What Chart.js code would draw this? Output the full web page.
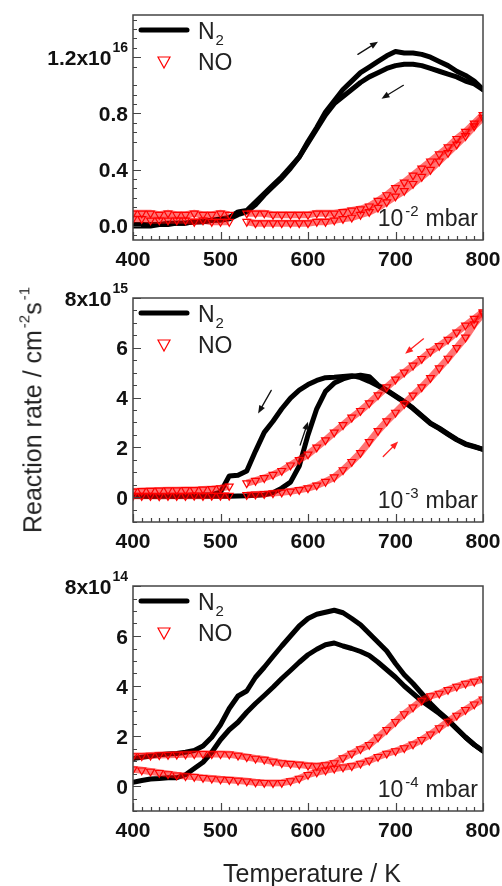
<!DOCTYPE html>
<html>
<head>
<meta charset="utf-8">
<script src="https://cdn.jsdelivr.net/npm/chart.js@4.4.0/dist/chart.umd.min.js"></script>
<style>
body { margin: 0; background: #fff; }
#wrap { position: relative; width: 502px; height: 886px; overflow: hidden; font-family: "Liberation Sans", Arial, sans-serif; color: #222; }
canvas { position: absolute; left: 0; }
#ytitle { position: absolute; left: 33px; top: 410px; transform: translate(-50%, -50%) rotate(-90deg); white-space: nowrap; font-size: 25px; }
#xtitle { position: absolute; left: 312px; top: 873px; transform: translate(-50%, -50%); white-space: nowrap; font-size: 25px; }
sup { font-size: 15px; position: relative; top: -3px; margin-left: 2px; }
</style>
</head>
<body>
<div id="wrap">
  <canvas id="c1" width="502" height="280" style="top:0px"></canvas>
  <canvas id="c2" width="502" height="290" style="top:280px"></canvas>
  <canvas id="c3" width="502" height="316" style="top:570px"></canvas>
  <div id="ytitle">Reaction rate / cm<sup>-2</sup>s<sup>-1</sup></div>
  <div id="xtitle">Temperature / K</div>
</div>
<script>

// temperature grid (K), shared by all panels
const temps = [400, 410, 420, 430, 440, 450, 460, 470, 480, 490,
               500, 510, 520, 530, 540, 550, 560, 570, 580, 590,
               600, 610, 620, 630, 640, 650, 660, 670, 680, 690,
               700, 710, 720, 730, 740, 750, 760, 770, 780, 790, 800];

// panel 1: 1e-2 mbar, values in 1e16 cm^-2 s^-1
const n2Heat1 = [0.00, 0.00, 0.00, 0.01, 0.01, 0.02, 0.02, 0.03, 0.03, 0.04,
                 0.05, 0.06, 0.10, 0.11, 0.17, 0.23, 0.29, 0.35, 0.42, 0.49,
                 0.60, 0.70, 0.81, 0.89, 0.97, 1.03, 1.09, 1.13, 1.17, 1.21,
                 1.24, 1.23, 1.23, 1.22, 1.20, 1.17, 1.14, 1.10, 1.07, 1.03, 0.97];
const n2Cool1 = [0.01, 0.01, 0.01, 0.01, 0.02, 0.02, 0.02, 0.03, 0.03, 0.04,
                 0.04, 0.05, 0.08, 0.10, 0.15, 0.22, 0.28, 0.34, 0.41, 0.49,
                 0.59, 0.69, 0.79, 0.87, 0.92, 0.97, 1.02, 1.06, 1.09, 1.12,
                 1.14, 1.15, 1.15, 1.14, 1.12, 1.10, 1.08, 1.06, 1.03, 1.01, 0.97];
const noA1 = [0.09, 0.09, 0.09, 0.08, 0.09, 0.08, 0.08, 0.09, 0.08, 0.08,
              0.09, 0.08, null, 0.09, 0.09, 0.09, 0.08, 0.08, 0.08, 0.08,
              0.08, 0.09, 0.09, 0.09, 0.10, 0.11, 0.12, 0.14, 0.18, 0.22,
              0.27, 0.31, 0.36, 0.41, 0.46, 0.51, 0.56, 0.62, 0.67, 0.73, 0.79];
const noB1 = [0.05, 0.05, 0.04, 0.04, 0.04, 0.04, 0.04, 0.03, 0.04, 0.03,
              0.03, 0.03, null, 0.03, 0.02, 0.02, 0.02, 0.02, 0.02, 0.02,
              0.02, 0.03, 0.03, 0.04, 0.05, 0.06, 0.08, 0.10, 0.13, 0.17,
              0.21, 0.25, 0.30, 0.35, 0.40, 0.46, 0.52, 0.58, 0.64, 0.71, 0.77];

// panel 2: 1e-3 mbar, values in 1e15 cm^-2 s^-1
const n2Heat2 = [0.03, 0.03, 0.02, 0.03, 0.03, 0.02, 0.03, 0.03, 0.03, 0.03,
                 0.03, 0.03, 0.04, 0.05, 0.07, 0.09, 0.18, 0.36, 0.60, 1.25,
                 2.50, 3.55, 4.25, 4.58, 4.75, 4.85, 4.90, 4.84, 4.50, 4.30,
                 4.07, 3.84, 3.58, 3.27, 2.97, 2.77, 2.54, 2.32, 2.14, 2.04, 1.92];
const n2Cool2 = [0.05, 0.05, 0.04, 0.05, 0.05, 0.05, 0.06, 0.07, 0.08, 0.10,
                 0.20, 0.85, 0.88, 1.05, 1.85, 2.60, 3.05, 3.55, 3.98, 4.30,
                 4.52, 4.69, 4.80, 4.82, 4.85, 4.88, 4.80, 4.65, 4.47, 4.28,
                 4.05, 3.82, 3.56, 3.25, 2.95, 2.75, 2.52, 2.30, 2.12, 2.02, 1.92];
const noA2 = [0.23, 0.25, 0.26, 0.27, 0.28, 0.28, 0.29, 0.29, 0.31, 0.33,
              0.36, 0.43, null, 0.56, 0.66, 0.77, 0.90, 1.06, 1.28, 1.50,
              1.72, 2.00, 2.29, 2.60, 2.90, 3.20, 3.47, 3.78, 4.10, 4.42,
              4.73, 5.01, 5.29, 5.56, 5.85, 6.08, 6.33, 6.62, 6.90, 7.17, 7.43];
const noB2 = [0.05, 0.05, 0.05, 0.04, 0.05, 0.05, 0.05, 0.06, 0.05, 0.06,
              0.06, 0.06, null, 0.09, 0.11, 0.13, 0.16, 0.19, 0.23, 0.29,
              0.36, 0.47, 0.62, 0.80, 1.09, 1.42, 1.78, 2.22, 2.66, 3.05,
              3.40, 3.75, 4.09, 4.42, 4.79, 5.18, 5.57, 6.00, 6.42, 6.95, 7.38];

// panel 3: 1e-4 mbar, values in 1e14 cm^-2 s^-1
const n2Up3 = [1.10, 1.15, 1.20, 1.25, 1.28, 1.30, 1.35, 1.42, 1.60, 1.95,
               2.45, 3.10, 3.60, 3.80, 4.35, 4.75, 5.18, 5.60, 6.00, 6.40,
               6.70, 6.87, 6.95, 7.03, 6.93, 6.70, 6.45, 6.10, 5.75, 5.40,
               4.90, 4.45, 4.10, 3.70, 3.30, 2.95, 2.65, 2.30, 1.95, 1.65, 1.40];
const n2Low3 = [0.15, 0.22, 0.28, 0.30, 0.33, 0.33, 0.45, 0.70, 0.95, 1.35,
                1.85, 2.25, 2.55, 2.95, 3.30, 3.62, 3.95, 4.30, 4.62, 4.95,
                5.25, 5.47, 5.65, 5.72, 5.60, 5.50, 5.38, 5.22, 4.95, 4.65,
                4.35, 4.00, 3.70, 3.40, 3.15, 2.90, 2.62, 2.28, 1.95, 1.65, 1.40];
const noA3 = [1.20, 1.20, 1.22, 1.24, 1.25, 1.26, 1.27, 1.28, 1.29, 1.28,
              1.28, 1.27, 1.22, 1.16, 1.10, 1.06, 0.98, 0.92, 0.89, 0.86,
              0.82, 0.80, 0.84, 0.92, 1.12, 1.30, 1.48, 1.65, 1.95, 2.25,
              2.57, 2.88, 3.15, 3.42, 3.60, 3.70, 3.85, 3.98, 4.10, 4.18, 4.27];
const noB3 = [0.67, 0.63, 0.58, 0.53, 0.48, 0.43, 0.40, 0.37, 0.33, 0.30,
              0.27, 0.25, 0.22, 0.19, 0.15, 0.13, 0.12, 0.13, 0.20, 0.30,
              0.45, 0.55, 0.63, 0.70, 0.75, 0.80, 0.90, 1.02, 1.17, 1.30,
              1.40, 1.52, 1.67, 1.85, 2.07, 2.32, 2.58, 2.82, 3.05, 3.27, 3.47];

// y tick labels per panel
const yTicks1 = [0, 0.4, 0.8, 1.2];
const yLabels1 = ["0.0", "0.4", "0.8", "1.2x10"];
const yTicks2 = [0, 2, 4, 6, 8];
const yLabels2 = ["0", "2", "4", "6", "8x10"];
const yTicks3 = [0, 2, 4, 6, 8];
const yLabels3 = ["0", "2", "4", "6", "8x10"];

// direction arrows, [T0, v0, T1, v1, colour] in data units
const arrows1 = [[657, 1.22, 680, 1.31, "#111"], [709, 1.00, 684, 0.905, "#111"]];
const arrows2 = [[558, 4.29, 543, 3.36, "#111"], [591, 2.09, 600, 3.03, "#111"],
                 [732, 6.36, 711, 5.76, "#ff2020"], [686, 1.63, 703, 2.23, "#ff2020"]];
const arrows3 = [];

const FONT = '"Liberation Sans", Arial, sans-serif';
const RED = "#ff0000";

function pts(vals) {
    return temps.map((t, i) => ({ x: t, y: vals[i] }));
}

function arrow(ctx, x0, y0, x1, y1, color) {
    const a = Math.atan2(y1 - y0, x1 - x0);
    ctx.save();
    ctx.strokeStyle = color;
    ctx.fillStyle = color;
    ctx.lineWidth = 1.3;
    ctx.beginPath();
    ctx.moveTo(x0, y0);
    ctx.lineTo(x1 - 5 * Math.cos(a), y1 - 5 * Math.sin(a));
    ctx.stroke();
    ctx.beginPath();
    ctx.moveTo(x1, y1);
    ctx.lineTo(x1 - 8 * Math.cos(a) + 3.2 * Math.sin(a), y1 - 8 * Math.sin(a) - 3.2 * Math.cos(a));
    ctx.lineTo(x1 - 8 * Math.cos(a) - 3.2 * Math.sin(a), y1 - 8 * Math.sin(a) + 3.2 * Math.cos(a));
    ctx.closePath();
    ctx.fill();
    ctx.restore();
}

// frame, inward ticks, y labels, legend, pressure note, arrows
const decoPlugin = {
    id: "deco",
    afterDraw(chart, args, opts) {
        const ctx = chart.ctx;
        const a = chart.chartArea;
        const xs = chart.scales.x;
        const ys = chart.scales.y;
        ctx.save();

        // frame
        ctx.strokeStyle = "#444";
        ctx.lineWidth = 1.5;
        ctx.strokeRect(a.left, a.top, a.right - a.left, a.bottom - a.top);

        // inward ticks on x
        ctx.lineWidth = 1.2;
        ctx.beginPath();
        for (let t = 400; t <= 800; t += 10) {
            const px = Math.round(xs.getPixelForValue(t)) + 0.5;
            const len = t % 100 === 0 ? 8 : 4;
            ctx.moveTo(px, a.bottom);
            ctx.lineTo(px, a.bottom - len);
        }
        // inward ticks on y
        const minor = opts.minor;
        for (let v = ys.min; v <= ys.max + 1e-9; v += minor) {
            const vv = Math.round(v / minor) * minor;
            const py = Math.round(ys.getPixelForValue(vv)) + 0.5;
            const isMajor = opts.ticks.some(m => Math.abs(m - vv) < 1e-6);
            ctx.moveTo(a.left, py);
            ctx.lineTo(a.left + (isMajor ? 8 : 4), py);
        }
        ctx.stroke();

        // y tick labels
        ctx.fillStyle = "#111";
        ctx.textAlign = "right";
        ctx.textBaseline = "alphabetic";
        opts.ticks.forEach((v, i) => {
            const py = ys.getPixelForValue(v);
            let xr = a.left - 5;
            if (i === opts.ticks.length - 1) {
                ctx.font = "bold 14px " + FONT;
                ctx.fillText(opts.exp, xr, py - 5);
                xr -= ctx.measureText(opts.exp).width + 1;
            }
            ctx.font = "bold 21px " + FONT;
            ctx.fillText(opts.labels[i], xr, py + 7.5);
        });

        // legend
        const lx = a.left;
        ctx.strokeStyle = "#000";
        ctx.lineWidth = 5;
        ctx.lineCap = "round";
        ctx.beginPath();
        ctx.moveTo(lx + 8, a.top + 15);
        ctx.lineTo(lx + 54, a.top + 15);
        ctx.stroke();
        ctx.fillStyle = "#222";
        ctx.textAlign = "left";
        ctx.font = "23px " + FONT;
        ctx.fillText("N", lx + 65, a.top + 23.5);
        const nw = ctx.measureText("N").width;
        ctx.font = "15px " + FONT;
        ctx.fillText("2", lx + 65 + nw + 1, a.top + 30);
        ctx.font = "23px " + FONT;
        ctx.fillText("NO", lx + 65, a.top + 55);
        ctx.strokeStyle = RED;
        ctx.lineWidth = 1.2;
        ctx.beginPath();
        ctx.moveTo(lx + 25, a.top + 42);
        ctx.lineTo(lx + 37, a.top + 42);
        ctx.lineTo(lx + 31, a.top + 53);
        ctx.closePath();
        ctx.stroke();

        // pressure note
        ctx.fillStyle = "#222";
        ctx.textAlign = "left";
        const base = a.bottom - 14;
        ctx.font = "23px " + FONT;
        const mw = ctx.measureText("mbar").width;
        const mx = a.right - 5 - mw;
        ctx.fillText("mbar", mx, base);
        ctx.font = "15px " + FONT;
        const ew = ctx.measureText(opts.pressExp).width;
        ctx.fillText(opts.pressExp, mx - 7 - ew, base - 10);
        ctx.font = "23px " + FONT;
        const tw = ctx.measureText("10").width;
        ctx.fillText("10", mx - 7 - ew - 2 - tw, base);

        // arrows
        opts.arrows.forEach(r => {
            arrow(ctx, xs.getPixelForValue(r[0]), ys.getPixelForValue(r[1]),
                  xs.getPixelForValue(r[2]), ys.getPixelForValue(r[3]), r[4]);
        });

        ctx.restore();
    }
};

function makePanel(id, n2a, n2b, noa, nob, ymin, ymax, cfg) {
    const canvas = document.getElementById(id);
    const h = canvas.height;
    const noStyle = {
        showLine: true,
        borderColor: "rgba(255,0,0,0.55)",
        borderWidth: 7,
        pointStyle: "triangle",
        rotation: 180,
        pointRadius: 4.5,
        pointBorderWidth: 1.2,
        pointBorderColor: RED,
        pointBackgroundColor: "rgba(255,255,255,0)",
        order: 0
    };
    const n2Style = {
        showLine: true,
        borderColor: "#000",
        borderWidth: 5,
        pointRadius: 0,
        borderJoinStyle: "round",
        borderCapStyle: "round",
        order: 1
    };
    return new Chart(canvas, {
        type: "scatter",
        data: {
            datasets: [
                Object.assign({ label: "NO", data: pts(noa) }, noStyle),
                Object.assign({ label: "NO", data: pts(nob) }, noStyle),
                Object.assign({ label: "N2", data: pts(n2a) }, n2Style),
                Object.assign({ label: "N2", data: pts(n2b) }, n2Style)
            ]
        },
        options: {
            responsive: false,
            animation: false,
            devicePixelRatio: 1,
            layout: { padding: { top: cfg.top, right: 19, left: 0, bottom: 0 } },
            plugins: {
                legend: { display: false },
                tooltip: { enabled: false },
                deco: cfg.deco
            },
            scales: {
                x: {
                    type: "linear",
                    min: 400,
                    max: 800,
                    grid: { display: false },
                    border: { display: false },
                    ticks: {
                        stepSize: 100,
                        padding: 0,
                        color: "#111",
                        font: { family: FONT, size: 21, weight: "bold" }
                    },
                    afterFit: s => { s.height = h - cfg.bottom; }
                },
                y: {
                    min: ymin,
                    max: ymax,
                    grid: { display: false },
                    border: { display: false },
                    ticks: { display: false },
                    afterFit: s => { s.width = 133; }
                }
            }
        },
        plugins: [decoPlugin]
    });
}

makePanel("c1", n2Heat1, n2Cool1, noA1, noB1, -0.1, 1.5, {
    top: 15, bottom: 240,
    deco: { ticks: yTicks1, labels: yLabels1, exp: "16", minor: 0.4 / 6, pressExp: "-2", arrows: arrows1 }
});
makePanel("c2", n2Heat2, n2Cool2, noA2, noB2, -1, 8, {
    top: 18, bottom: 242,
    deco: { ticks: yTicks2, labels: yLabels2, exp: "15", minor: 0.5, pressExp: "-3", arrows: arrows2 }
});
makePanel("c3", n2Up3, n2Low3, noA3, noB3, -1, 8, {
    top: 16, bottom: 241,
    deco: { ticks: yTicks3, labels: yLabels3, exp: "14", minor: 0.5, pressExp: "-4", arrows: arrows3 }
});

</script>
</body>
</html>
